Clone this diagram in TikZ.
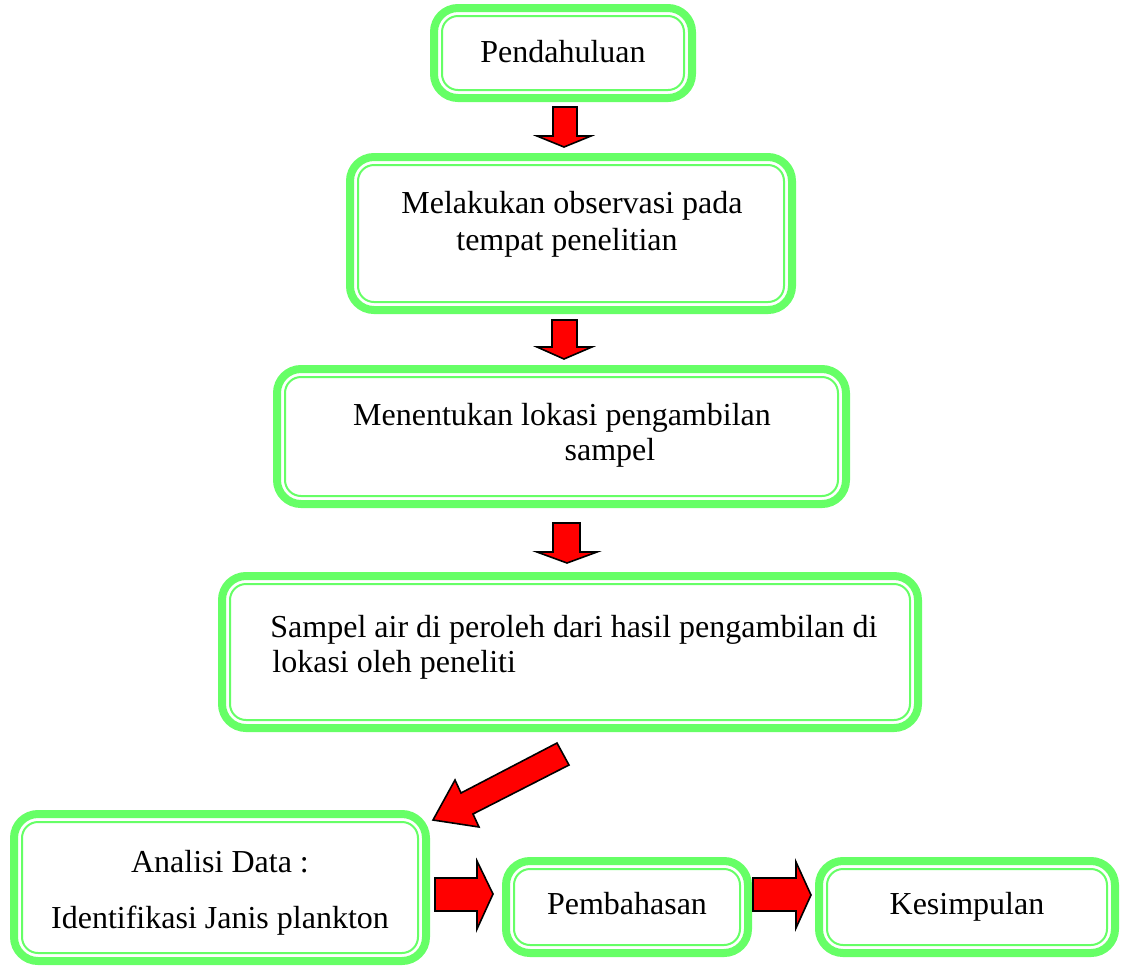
\documentclass[tikz,border=0pt]{standalone}
\usepackage{fontspec}
\setmainfont{Liberation Serif}
\definecolor{boxgreen}{HTML}{66FF66}
\definecolor{arrowred}{HTML}{FF0000}
\tikzset{
  gbox/.style={draw=boxgreen, line width=4pt, rounded corners=12pt, inner sep=0pt, outer sep=0pt, fill=white},
  ginner/.style={draw=boxgreen, line width=1pt, rounded corners=8pt},
  redarrow/.style={draw=black, fill=arrowred, line width=0.8pt, line join=miter},
  btext/.style={inner sep=0pt, anchor=base, font=\fontsize{16}{18.5}\selectfont},
  btextl/.style={btext, anchor=base west}
}
\newcommand{\greenbox}[5]{%
  \pgfmathsetmacro\gbw{(#4-#2-8)*0.5}%
  \pgfmathsetmacro\gbh{(#5-#3-8)*0.5}%
  \node[gbox, minimum width=\gbw pt, minimum height=\gbh pt] (#1) at ({(#2+#4)/2},{(#3+#5)/2}) {};
  \draw[ginner] ([shift={(4pt,4pt)}]#1.south west) rectangle ([shift={(-4pt,-4pt)}]#1.north east);
}
\begin{document}
\begin{tikzpicture}[x=0.5pt, y=-0.5pt]
\useasboundingbox (0,0) rectangle (1121,966);
% boxes
\greenbox{b1}{430}{4}{696}{102}
\greenbox{b2}{346}{153}{796}{314}
\greenbox{b3}{273}{365}{850}{508}
\greenbox{b4}{218}{572}{922}{732}
\greenbox{b5}{10}{810}{430}{965}
\greenbox{b6}{502}{857}{752}{957}
\greenbox{b7}{815}{857}{1119}{957}
% texts
\node[btext] (t1) at (563,62) {Pendahuluan};
\node[btext] (t2a) at (572,213) {Melakukan observasi pada};
\node[btext] (t2b) at (567,250) {tempat penelitian};
\node[btext] (t3a) at (562,425) {Menentukan lokasi pengambilan};
\node[btext] (t3b) at (610,460) {sampel};
\node[btextl] (t4a) at (270,637) {Sampel air di peroleh dari hasil pengambilan di};
\node[btextl] (t4b) at (272,672) {lokasi oleh peneliti};
\node[btext] (t5a) at (220,872) {Analisi Data :};
\node[btext] (t5b) at (220,928) {Identifikasi Janis plankton};
\node[btext] (t6) at (627,914) {Pembahasan};
\node[btext] (t7) at (967,914) {Kesimpulan};
% block arrows
\draw[redarrow] (553,107) -- (577,107) -- (577,136) -- (591,136) -- (564,147) -- (537,136) -- (553,136) -- cycle;
\draw[redarrow] (552,320) -- (577,320) -- (577,347) -- (592,347) -- (564,359) -- (537,347) -- (552,347) -- cycle;
\draw[redarrow] (553,523) -- (580,523) -- (580,552) -- (597,552) -- (567,563) -- (537,552) -- (553,552) -- cycle;
\draw[redarrow] (557,743) -- (569,765) -- (473,814) -- (479,827) -- (433,820) -- (455,780) -- (461,793) -- cycle;
\draw[redarrow] (435,878) -- (477,878) -- (477,861) -- (493,894) -- (477,929) -- (477,911) -- (435,911) -- cycle;
\draw[redarrow] (753,878) -- (796,878) -- (796,862) -- (811,895) -- (796,928) -- (796,911) -- (753,911) -- cycle;
\end{tikzpicture}
\end{document}
